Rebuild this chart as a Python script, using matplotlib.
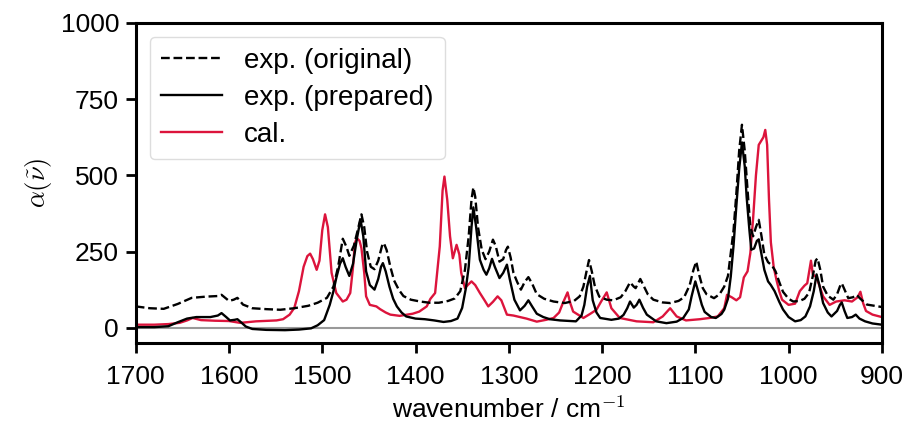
import numpy as np
import matplotlib
matplotlib.use('Agg')
import matplotlib.pyplot as plt

plt.rcParams['font.family'] = ['Liberation Sans', 'DejaVu Sans']
plt.rcParams['mathtext.fontset'] = 'cm'
plt.rcParams['font.size'] = 19

# exp. (original)
w_orig = [1700, 1685, 1670, 1655, 1640, 1625, 1612, 1608, 1600, 1595, 1591, 1585, 1575, 1560,
          1545, 1530, 1515, 1505, 1495, 1488, 1483, 1478, 1474, 1471, 1466, 1462, 1458, 1455,
          1452, 1448, 1444, 1440, 1436, 1434, 1431, 1427, 1423, 1418, 1413, 1405, 1395, 1385,
          1375, 1365, 1358, 1352, 1347, 1343, 1340, 1338, 1336, 1333, 1329, 1325, 1321, 1317,
          1314, 1310, 1306, 1303, 1301, 1298, 1295, 1291, 1287, 1283, 1279, 1275, 1270, 1262,
          1252, 1240, 1230, 1224, 1220, 1217, 1214, 1211, 1208, 1203, 1195, 1188, 1180, 1175,
          1170, 1166, 1164, 1159, 1155, 1151, 1145, 1135, 1127, 1118, 1112, 1106, 1102, 1099,
          1096, 1092, 1088, 1080, 1074, 1069, 1065, 1062, 1059, 1056, 1053, 1050, 1047, 1044,
          1041, 1038, 1035, 1032, 1029, 1026, 1022, 1018, 1014, 1010, 1006, 1000, 995, 988,
          983, 978, 974, 971, 969, 966, 963, 958, 952, 948, 945, 943, 940, 936, 931, 927, 923,
          916, 908, 900]
a_orig = [70, 64, 62, 78, 98, 102, 104, 108, 88, 92, 98, 76, 64, 61,
          59, 64, 72, 82, 98, 135, 200, 292, 265, 236, 270, 320, 372, 330,
          250, 200, 192, 220, 268, 278, 255, 200, 155, 125, 104, 92, 86, 82,
          82, 88, 96, 120, 190, 300, 420, 460, 430, 330, 256, 225, 250, 289,
          268, 217, 225, 255, 266, 230, 180, 150, 125, 150, 166, 145, 110, 95,
          86, 81, 88, 103, 135, 180, 222, 185, 140, 102, 92, 90, 100, 120,
          149, 135, 130, 160, 135, 110, 92, 83, 81, 88, 100, 140, 190, 217,
          175, 130, 110, 97, 110, 135, 170, 245, 320, 441, 580, 666, 580, 452,
          330, 300, 330, 354, 300, 240, 215, 205, 185, 150, 118, 95, 86, 88,
          95, 115, 170, 220, 228, 190, 135, 105, 92, 110, 135, 146, 125, 97, 100, 108, 95,
          76, 72, 68]

# exp. (prepared)
w_prep = [1700, 1680, 1665, 1655, 1645, 1635, 1620, 1612, 1608, 1603, 1599, 1594, 1591, 1586,
          1582, 1575, 1560, 1540, 1525, 1512, 1505, 1498, 1492, 1488, 1485, 1481, 1478, 1475,
          1471, 1467, 1463, 1459, 1456, 1453, 1449, 1444, 1440, 1437, 1435, 1432, 1428, 1424,
          1420, 1415, 1410, 1400, 1390, 1380, 1370, 1362, 1355, 1350, 1346, 1343, 1340, 1338,
          1335, 1331, 1327, 1324, 1321, 1318, 1315, 1310, 1306, 1302, 1299, 1294, 1288, 1283,
          1279, 1275, 1270, 1263, 1256, 1245, 1228, 1222, 1219, 1216, 1213, 1210, 1206, 1202,
          1190, 1182, 1177, 1173, 1170, 1166, 1163, 1160, 1156, 1152, 1142, 1131, 1120, 1113,
          1107, 1104, 1100, 1097, 1093, 1090, 1083, 1078, 1072, 1069, 1065, 1062, 1059, 1056,
          1053, 1050, 1047, 1045, 1042, 1040, 1037, 1034, 1032, 1029, 1026, 1022, 1019, 1015,
          1010, 1006, 1000, 993, 987, 982, 977, 973, 970, 967, 963, 958, 954, 948, 945, 943,
          940, 937, 932, 928, 924, 918, 910, 900]
a_prep = [2, 2, 5, 18, 30, 35, 35, 40, 48, 35, 24, 26, 28, 15,
          4, -4, -7, -8, -6, -2, 8, 25, 75, 120, 163, 210, 228, 200,
          170, 210, 290, 355, 300, 185, 140, 125, 160, 200, 212, 185, 135, 95,
          70, 50, 37, 30, 28, 24, 19, 22, 30, 65, 130, 200, 330, 395,
          330, 223, 190, 174, 195, 226, 200, 163, 180, 207, 160, 92, 57, 72,
          90, 70, 46, 35, 28, 24, 21, 40, 75, 135, 170, 90, 50, 32,
          26, 30, 42, 64, 86, 66, 75, 92, 65, 43, 21, 15, 20, 32,
          60, 103, 152, 120, 75, 52, 35, 32, 45, 59, 95, 168, 270, 400,
          520, 608, 530, 430, 320, 256, 260, 285, 290, 240, 190, 152, 140, 120,
          85, 60, 35, 21, 25, 37, 70, 120, 175, 140, 81, 50, 37, 55, 75, 83,
          55, 32, 35, 43, 30, 21, 14, 10]

# cal.
w_cal = [1700, 1680, 1665, 1653, 1645, 1639, 1630, 1615, 1600, 1588, 1571, 1555, 1549, 1542,
         1535, 1530, 1525, 1520, 1516, 1513, 1510, 1506, 1503, 1500, 1497, 1494, 1490, 1485,
         1478, 1474, 1470, 1467, 1465, 1463, 1460, 1458, 1455, 1453, 1449, 1445, 1442, 1438,
         1432, 1427, 1417, 1403, 1396, 1388, 1384, 1379, 1374, 1371, 1369, 1366, 1363, 1360,
         1356, 1353, 1351, 1347, 1344, 1340, 1336, 1331, 1326, 1322, 1317, 1312, 1308, 1302,
         1295, 1281, 1270, 1260, 1252, 1246, 1242, 1237, 1234, 1231, 1220, 1213, 1206, 1201,
         1195, 1190, 1181, 1163, 1145, 1135, 1127, 1120, 1110, 1095, 1085, 1076, 1069, 1066,
         1061, 1056, 1052, 1048, 1044, 1041, 1038, 1035, 1032, 1029, 1027, 1025, 1023, 1021,
         1019, 1016, 1013, 1010, 1007, 1000, 993, 988, 983, 980, 976, 974, 970, 966, 963,
         956, 949, 940, 932, 926, 923, 920, 917, 910, 900]
a_cal = [10, 10, 12, 16, 24, 32, 25, 23, 22, 16, 21, 23, 24, 28,
         43, 65, 120, 200, 235, 243, 225, 190, 220, 320, 372, 330, 180, 114,
         86, 92, 114, 200, 278, 294, 285, 261, 180, 103, 75, 72, 70, 61,
         50, 43, 39, 46, 53, 70, 95, 114, 267, 450, 496, 420, 300, 228,
         272, 240, 180, 130, 140, 152, 140, 114, 90, 70, 85, 103, 90, 43,
         40, 30, 20, 26, 32, 50, 81, 116, 80, 53, 32, 45, 59, 86,
         116, 64, 32, 21, 18, 37, 64, 37, 24, 28, 32, 37, 64, 108,
         100, 90, 100, 165, 185, 245, 360, 500, 600, 615, 625, 649, 600, 420,
         280, 200, 157, 120, 92, 75, 79, 120, 138, 146, 220, 175, 165, 130, 103,
         75, 86, 90, 86, 100, 118, 80, 55, 43, 35]

fig = plt.figure(figsize=(9.11, 4.25), dpi=100)
ax = fig.add_axes([0.149, 0.193, 0.819, 0.753])

ax.axhline(0, color='#999999', lw=1.5, zorder=1)
ax.plot(w_orig, a_orig, color='black', ls='--', lw=1.7, label='exp. (original)', zorder=3)
ax.plot(w_prep, a_prep, color='black', lw=1.7, label='exp. (prepared)', zorder=3)
ax.plot(w_cal, a_cal, color='#dc143c', lw=1.7, label='cal.', zorder=2)

ax.set_xlim(1700, 900)
ax.set_ylim(-50, 1000)
ax.set_xticks(np.arange(1700, 899, -100))
ax.set_yticks([0, 250, 500, 750, 1000])
ax.set_xlabel('wavenumber / cm$^{-1}$', labelpad=5)
ax.set_ylabel(r'$\alpha(\tilde{\nu})$', labelpad=5)

for s in ax.spines.values():
    s.set_linewidth(2.2)
ax.tick_params(axis='both', which='major', length=7, width=2, labelsize=19, pad=5)
ax.tick_params(axis='x', pad=9)

leg = ax.legend(loc='upper left', handlelength=2.2, borderaxespad=0.5, fancybox=True,
                framealpha=1, edgecolor='#dddddd', fontsize=20, labelspacing=0.4)

fig.savefig('out.png', dpi=100)
